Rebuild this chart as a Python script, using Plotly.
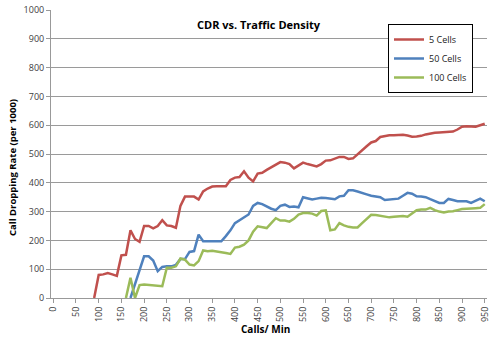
import plotly.graph_objects as go

x_calls = list(range(0, 960, 10))

cells5 = [None]*9 + [0, 80, 82, 87, 82, 77, 148, 150, 235, 205, 195,
          250, 250, 242, 250, 270, 252, 250, 244, 320, 352,
          352, 352, 342, 370, 380, 387, 388, 388, 388, 410,
          418, 420, 440, 418, 405, 432, 435, 445, 455, 465,
          472, 470, 465, 450, 460, 470, 465, 460, 457, 465,
          477, 478, 485, 490, 490, 483, 485, 500, 515, 527,
          540, 545, 559, 562, 565, 565, 566, 567, 564, 560,
          561, 563, 568, 572, 574, 575, 576, 578, 578, 585,
          595, 596, 595, 595, 600, 605]

cells50 = [None]*17 + [0, 47, 100, 145, 145, 130, 93, 108, 110, 110, 115, 135, 135,
           160, 163, 220, 197, 197, 197, 197, 197, 215, 235,
           260, 270, 280, 290, 320, 330, 326, 318, 310, 305,
           320, 324, 316, 318, 315, 350, 347, 342, 345, 348,
           347, 346, 343, 353, 355, 374, 374, 370, 366, 360,
           355, 352, 350, 340, 342, 345, 345, 355, 365, 362,
           353, 352, 350, 343, 336, 330, 330, 344, 340, 336,
           336, 336, 330, 338, 345, 336]

cells100 = [None]*16 + [0, 70, 0, 45, 47, 45, 44, 42, 41, 105, 105, 110, 137, 133,
            116, 113, 128, 165, 162, 164, 162, 160, 156, 153,
            175, 178, 185, 200, 230, 249, 247, 243, 260, 277,
            269, 269, 265, 275, 290, 295, 295, 293, 286, 302,
            304, 235, 238, 260, 252, 247, 245, 245, 260, 275,
            289, 288, 286, 282, 280, 282, 283, 285, 282, 295,
            305, 307, 307, 313, 305, 300, 297, 300, 301, 305,
            309, 310, 310, 312, 313, 326]

series_names = ["5 Cells", "50 Cells", "100 Cells"]
x_ticks = list(range(0, 1000, 50))
y_ticks = list(range(0, 1100, 100))

colors = ["#C0504D", "#4F81BD", "#9BBB59"]
FONT = "Open Sans"

L, R, T, B = 51, 6, 10, 42
PW = 493 - L - R
PH = 340 - T - B

fig = go.Figure()
for name, vals, col in zip(series_names, [cells5, cells50, cells100], colors):
    fig.add_trace(go.Scatter(x=x_calls, y=vals, mode="lines", name=name,
                             line=dict(color=col, width=2.5), connectgaps=False))

fig.update_layout(
    width=493, height=340,
    margin=dict(l=L, r=R, t=T, b=B, autoexpand=False),
    paper_bgcolor="white", plot_bgcolor="white",
    font=dict(family=FONT, size=9, color="#404040"),
    showlegend=True,
    legend=dict(x=(388 - L) / PW, y=(340 - B - 24) / PH, xanchor="left", yanchor="top",
                bgcolor="white", bordercolor="black", borderwidth=1,
                font=dict(family=FONT, size=9, color="#222"),
                itemwidth=30),
    xaxis=dict(range=[-5, 955], tickmode="array", tickvals=x_ticks,
               ticktext=[str(v) for v in x_ticks], tickangle=-90, automargin=False,
               showgrid=False, zeroline=False, showline=True, linecolor="#999",
               ticks="outside", ticklen=4, tickcolor="#999",
               tickfont=dict(family=FONT, size=9, color="#404040")),
    yaxis=dict(range=[0, 1000], tickmode="array", tickvals=y_ticks, automargin=False,
               showgrid=True, gridcolor="#9a9a9a", gridwidth=1, zeroline=False,
               showline=True, linecolor="#999", ticks="outside", ticklen=4,
               tickcolor="#999",
               tickfont=dict(family=FONT, size=9, color="#404040")),
    annotations=[
        dict(text="<b>CDR vs. Traffic Density</b>", xref="paper", yref="paper",
             x=(259 - L) / PW, y=(340 - B - 24) / PH, showarrow=False,
             xanchor="center", yanchor="middle",
             font=dict(family=FONT, size=11, color="black")),
        dict(text="<b>Calls/ Min</b>", xref="paper", yref="paper",
             x=(265 - L) / PW, y=(340 - B - 329) / PH, showarrow=False,
             xanchor="center", yanchor="middle",
             font=dict(family=FONT, size=10, color="black")),
        dict(text="<b>Call Dropping Rate (per 1000)</b>", xref="paper", yref="paper",
             x=(12 - L) / PW, y=(340 - B - 168) / PH, showarrow=False, textangle=-90,
             xanchor="center", yanchor="middle",
             font=dict(family=FONT, size=9.5, color="black")),
    ],
)

fig.write_html("out.html", config={"displayModeBar": False},
               post_script="document.body.style.margin='0';document.body.style.overflow='hidden';")
